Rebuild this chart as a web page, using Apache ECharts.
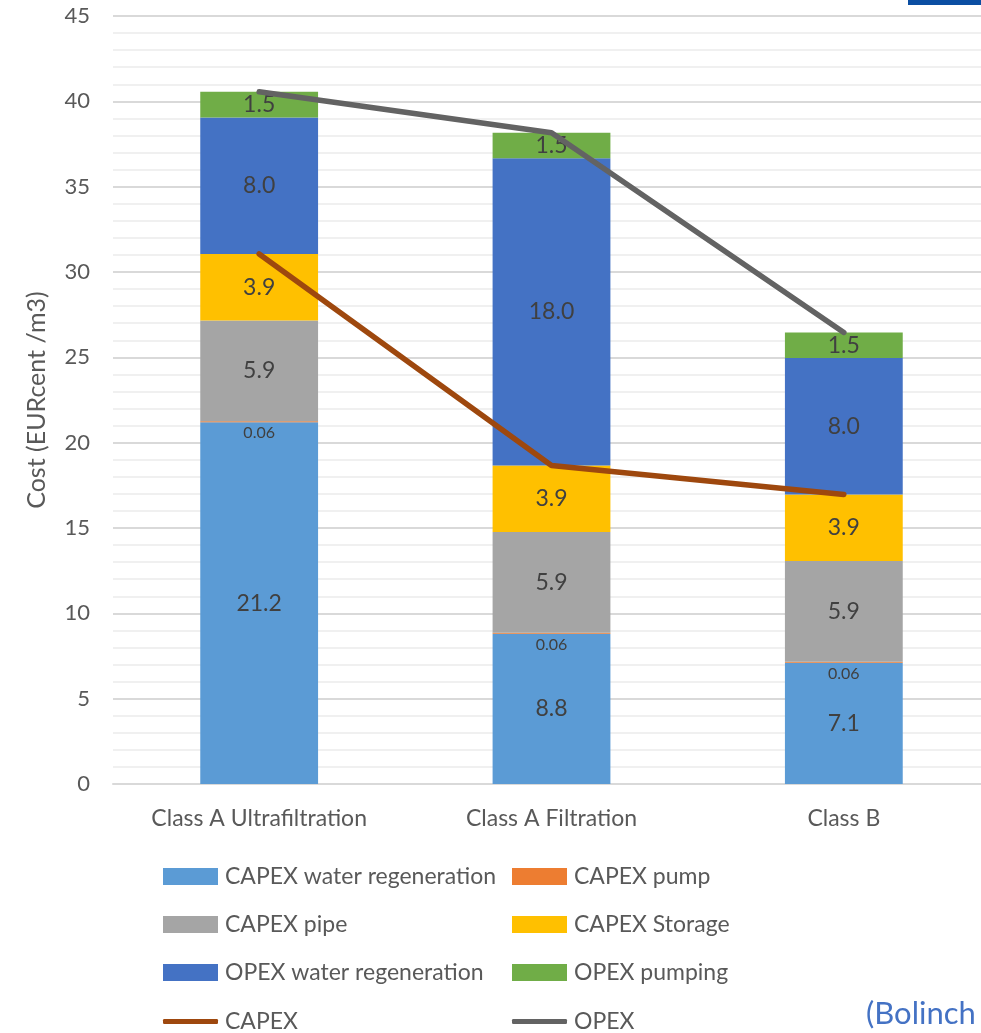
<!DOCTYPE html>
<html>
<head>
<meta charset="utf-8">
<script src="https://cdn.jsdelivr.net/npm/echarts@6/dist/echarts.min.js"></script>
<style>
  html, body { margin: 0; padding: 0; background: #ffffff; overflow: hidden; }
  #chart { width: 990px; height: 1033px; }
</style>
</head>
<body>
<div id="chart"></div>
<script>
// Cost breakdown per reclaimed-water class (EURcent / m3)
const categories = ['Class A Ultrafiltration', 'Class A Filtration', 'Class B'];

const capexWaterRegeneration = [21.2, 8.8, 7.1];
const capexPump = [0.06, 0.06, 0.06];
const capexPipe = [5.9, 5.9, 5.9];
const capexStorage = [3.9, 3.9, 3.9];
const opexWaterRegeneration = [8.0, 18.0, 8.0];
const opexPumping = [1.5, 1.5, 1.5];

// Trend lines
const capexTotal = [31.06, 18.66, 16.96];
const opexTotal = [40.56, 38.16, 26.46];

const yTicks = { min: 0, max: 45, interval: 5 };

// Legend layout: two columns, four rows
const legendColumns = [
  ['CAPEX water regeneration', 'CAPEX pipe', 'OPEX water regeneration', 'CAPEX'],
  ['CAPEX pump', 'CAPEX Storage', 'OPEX pumping', 'OPEX']
];
const lineNames = ['CAPEX', 'OPEX'];

const FONT = 'Lato, "Open Sans", sans-serif';
const LABEL_COLOR = '#404040';
const AXIS_COLOR = '#595959';

function barSeries(name, data, color, labelOpts) {
  return {
    name: name,
    type: 'bar',
    stack: 'cost',
    data: data,
    barWidth: '40.3%',
    itemStyle: { color: color },
    label: Object.assign({
      show: true,
      position: 'inside',
      color: LABEL_COLOR,
      fontFamily: FONT,
      fontSize: 23,
      formatter: p => p.value.toFixed(1)
    }, labelOpts || {}),
    emphasis: { disabled: true }
  };
}

function lineSeries(name, data, color) {
  return {
    name: name,
    type: 'line',
    data: data,
    symbol: 'none',
    z: 5,
    lineStyle: { color: color, width: 5.5, cap: 'round', join: 'round' },
    itemStyle: { color: color },
    emphasis: { disabled: true }
  };
}

const legendText = { color: AXIS_COLOR, fontFamily: FONT, fontSize: 23 };
const colLeft = [163, 512];
const rowCenter = [876, 924, 972, 1021];

const legends = [];
legendColumns.forEach((col, ci) => {
  col.forEach((name, ri) => {
    const isLine = lineNames.indexOf(name) >= 0;
    legends.push({
      left: colLeft[ci],
      top: rowCenter[ri] - 11,
      padding: 0,
      itemWidth: 55,
      itemHeight: isLine ? 5 : 17,
      icon: isLine ? 'roundRect' : 'rect',
      itemGap: 0,
      selectedMode: false,
      textStyle: Object.assign({ padding: [0, 0, 0, 2] }, legendText),
      data: [name]
    });
  });
});

const chart = echarts.init(document.getElementById('chart'), null, { renderer: 'canvas' });

chart.setOption({
  animation: false,
  backgroundColor: '#ffffff',
  grid: { left: 113, width: 877, top: 16, bottom: 249, containLabel: false },
  xAxis: {
    type: 'category',
    data: categories,
    axisLine: { show: true, lineStyle: { color: '#d9d9d9', width: 2 } },
    axisTick: { show: false },
    axisLabel: { color: AXIS_COLOR, fontFamily: FONT, fontSize: 23, margin: 23 }
  },
  yAxis: {
    type: 'value',
    min: yTicks.min,
    max: yTicks.max,
    interval: yTicks.interval,
    name: 'Cost (EURcent /m3)',
    nameLocation: 'middle',
    nameGap: 64,
    nameTextStyle: { color: AXIS_COLOR, fontFamily: FONT, fontSize: 25 },
    axisLine: { show: false },
    axisTick: { show: false },
    axisLabel: { color: AXIS_COLOR, fontFamily: FONT, fontSize: 22, margin: 23 },
    splitLine: { show: true, lineStyle: { color: '#d9d9d9', width: 2 } },
    minorTick: { show: false, splitNumber: 5 },
    minorSplitLine: { show: true, lineStyle: { color: '#ececec', width: 1.5 } }
  },
  legend: legends,
  series: [
    barSeries('CAPEX water regeneration', capexWaterRegeneration, '#5b9bd5'),
    barSeries('CAPEX pump', capexPump, '#ed7d31', {
      position: 'bottom',
      distance: 3,
      fontSize: 16,
      formatter: p => p.value.toFixed(2)
    }),
    barSeries('CAPEX pipe', capexPipe, '#a5a5a5'),
    barSeries('CAPEX Storage', capexStorage, '#ffc000'),
    barSeries('OPEX water regeneration', opexWaterRegeneration, '#4472c4'),
    barSeries('OPEX pumping', opexPumping, '#70ad47'),
    lineSeries('CAPEX', capexTotal, '#9e480e'),
    lineSeries('OPEX', opexTotal, '#636363')
  ],
  graphic: [
    { type: 'rect', left: 908, top: 0, shape: { width: 82, height: 5 }, style: { fill: '#0b4ea2' } },
    {
      type: 'text', left: 866, top: 998,
      style: { text: '(Bolinch', fill: '#4472c4', font: '31px ' + FONT }
    }
  ]
});
</script>
</body>
</html>
